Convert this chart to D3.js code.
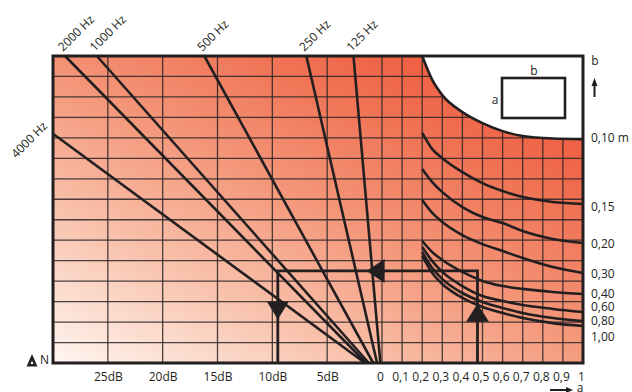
<!DOCTYPE html>
<html>
<head>
<meta charset="utf-8">
<script src="https://cdn.jsdelivr.net/npm/d3@7"></script>
<style>
  body { margin: 0; background: #fff; }
  svg text { font-family: "Open Sans", sans-serif; font-size: 12px; fill: #231f20; }
</style>
</head>
<body>
<script>
// left part: attenuation in dB, right part: duct side a (m), vertical: rows N
const dbTicks = [25, 20, 15, 10, 5];
const aTicks = [0, 0.1, 0.2, 0.3, 0.4, 0.5, 0.6, 0.7, 0.8, 0.9, 1];
const nRows = 15;

// frequency lines: start (dB, N) at the top/left, all running down to N = 0 near 0 dB
const freqLabels = ['4000 Hz', '2000 Hz', '1000 Hz', '500 Hz', '250 Hz', '125 Hz'];
const freqStartDb = [30, 28.9, 26.0, 16.2, 6.9, 2.6];
const freqStartN = [11.2, 15, 15, 15, 15, 15];
const freqEndDb = [1.55, 1.45, 1.2, 0.8, 0.45, 0.15];

// b curves, sampled at the same a values
const curveA = [0.2, 0.25, 0.3, 0.4, 0.5, 0.6, 0.7, 0.85, 1.0];
const b010 = [15, 13.83, 13.09, 12.26, 11.72, 11.33, 11.09, 10.97, 10.94];
const b015 = [11.24, 10.45, 10.01, 9.33, 8.79, 8.40, 8.11, 7.87, 7.77];
const b020 = [9.48, 8.84, 8.35, 7.62, 7.13, 6.84, 6.45, 6.06, 5.86];
const b030 = [7.96, 7.33, 6.89, 6.25, 5.81, 5.47, 5.13, 4.69, 4.40];
const b040 = [5.96, 5.42, 5.03, 4.45, 4.01, 3.76, 3.62, 3.47, 3.37];
const b060 = [5.67, 4.98, 4.45, 3.76, 3.27, 3.03, 2.83, 2.64, 2.49];
const b080 = [5.42, 4.64, 4.10, 3.42, 2.98, 2.69, 2.44, 2.20, 2.05];
const b100 = [5.23, 4.40, 3.86, 3.18, 2.74, 2.44, 2.20, 1.95, 1.81];

const bLabels = ['0,10 m', '0,15', '0,20', '0,30', '0,40', '0,60', '0,80', '1,00'];
const bLabelN = [11.0, 7.62, 5.81, 4.35, 3.37, 2.74, 2.05, 1.27];

// worked example: a = 0.475 -> up to N 4.5 -> left to 9.5 dB -> down
const exampleA = 0.475;
const exampleN = 4.5;
const exampleDb = 9.5;
const upTipN = 2.9;
const leftTipDb = 1.4;
const downBaseN = 3.0;

const width = 632, height = 392;
const ink = '#231f20';

const svg = d3.select('body').append('svg')
  .attr('xmlns', 'http://www.w3.org/2000/svg')
  .attr('width', width)
  .attr('height', height);

const dbScale = d3.scaleLinear().domain([30, 0]).range([53, 382]);
const aScale = d3.scaleLinear().domain([0, 1]).range([382, 583]);
const nScale = d3.scaleLinear().domain([0, nRows]).range([363, 56]);

const x0 = dbScale(30), x1 = aScale(1), yTop = nScale(nRows), yBot = nScale(0);

const grad = svg.append('defs').append('linearGradient')
  .attr('id', 'bg')
  .attr('gradientUnits', 'userSpaceOnUse')
  .attr('x1', x0).attr('y1', yBot)
  .attr('x2', 282).attr('y2', -95);
[[0, '#fff6f1'], [0.25, '#f9c6b1'], [0.5, '#f4977a'], [0.75, '#f06e50'], [1, '#ec4a2f']]
  .forEach(s => grad.append('stop').attr('offset', s[0]).attr('stop-color', s[1]));

svg.append('rect')
  .attr('x', x0).attr('y', yTop)
  .attr('width', x1 - x0).attr('height', yBot - yTop)
  .attr('fill', 'url(#bg)');

// grid
const grid = svg.append('g')
  .attr('stroke', '#2a2526')
  .attr('stroke-width', 1.3)
  .attr('stroke-opacity', 0.85);

grid.selectAll('line.h')
  .data(d3.range(1, nRows))
  .enter().append('line')
  .attr('x1', x0).attr('x2', x1)
  .attr('y1', d => nScale(d)).attr('y2', d => nScale(d));

grid.selectAll('line.db')
  .data(dbTicks)
  .enter().append('line')
  .attr('x1', d => dbScale(d)).attr('x2', d => dbScale(d))
  .attr('y1', yTop).attr('y2', yBot);

grid.selectAll('line.a')
  .data(aTicks.slice(0, -1))
  .enter().append('line')
  .attr('x1', d => aScale(d)).attr('x2', d => aScale(d))
  .attr('y1', yTop).attr('y2', yBot);

// white region above the 0,10 curve
const bLine = d3.line()
  .x(d => aScale(d[0]))
  .y(d => nScale(d[1]))
  .curve(d3.curveMonotoneX);

const boundary = curveA.map((a, i) => [a, b010[i]]);
svg.append('path')
  .attr('d', bLine(boundary) + 'L' + aScale(1) + ',' + nScale(nRows) + 'Z')
  .attr('fill', '#fff');

const curves = [b010, b015, b020, b030, b040, b060, b080, b100];
svg.append('g')
  .selectAll('path')
  .data(curves)
  .enter().append('path')
  .attr('d', c => bLine(curveA.map((a, i) => [a, c[i]])))
  .attr('fill', 'none')
  .attr('stroke', ink)
  .attr('stroke-width', 2.6);

// frequency lines
svg.append('g')
  .selectAll('line')
  .data(freqLabels)
  .enter().append('line')
  .attr('x1', (d, i) => dbScale(freqStartDb[i]))
  .attr('y1', (d, i) => nScale(freqStartN[i]))
  .attr('x2', (d, i) => dbScale(freqEndDb[i]))
  .attr('y2', yBot)
  .attr('stroke', ink)
  .attr('stroke-width', 2.6);

// example route with arrow heads
const ax = aScale(exampleA), ay = nScale(exampleN), dx = dbScale(exampleDb);
svg.append('path')
  .attr('d', `M${ax},${yBot}V${ay}H${dx}V${yBot}`)
  .attr('fill', 'none')
  .attr('stroke', ink)
  .attr('stroke-width', 2.8);

const heads = [
  // up
  [[ax, nScale(upTipN)], [ax - 11.5, nScale(upTipN) + 18], [ax + 11.5, nScale(upTipN) + 18]],
  // left
  [[dbScale(leftTipDb), ay], [dbScale(leftTipDb) + 18, ay - 12], [dbScale(leftTipDb) + 18, ay + 12]],
  // down
  [[dx, nScale(downBaseN) + 18], [dx - 11, nScale(downBaseN)], [dx + 11, nScale(downBaseN)]]
];
svg.append('g')
  .selectAll('path')
  .data(heads)
  .enter().append('path')
  .attr('d', d => 'M' + d.join('L') + 'Z')
  .attr('fill', ink);

// frame
svg.append('rect')
  .attr('x', x0).attr('y', yTop)
  .attr('width', x1 - x0).attr('height', yBot - yTop)
  .attr('fill', 'none')
  .attr('stroke', ink)
  .attr('stroke-width', 3);

// inset duct section
svg.append('rect')
  .attr('x', 502).attr('y', 78)
  .attr('width', 63).attr('height', 40)
  .attr('fill', '#fff')
  .attr('stroke', ink)
  .attr('stroke-width', 2.6);
svg.append('text').attr('x', 534).attr('y', 75).attr('text-anchor', 'middle').text('b');
svg.append('text').attr('x', 495).attr('y', 104).attr('text-anchor', 'middle').text('a');

// bottom axes
const dbAxis = svg.append('g')
  .attr('transform', `translate(0,${yBot})`)
  .call(d3.axisBottom(dbScale).tickValues(dbTicks).tickSize(0).tickPadding(9.5)
    .tickFormat(d => d + 'dB'));

const aAxis = svg.append('g')
  .attr('transform', `translate(-2,${yBot})`)
  .call(d3.axisBottom(aScale).tickValues(aTicks).tickSize(0).tickPadding(9.5)
    .tickFormat(d => (d === 0 || d === 1) ? String(d) : d3.format('.1f')(d).replace('.', ',')));

// right labels
const bAxis = svg.append('g')
  .attr('transform', `translate(${x1},0)`)
  .call(d3.axisRight(nScale).tickValues(bLabelN).tickSize(0).tickPadding(8)
    .tickFormat((d, i) => bLabels[i]));

[dbAxis, aAxis, bAxis].forEach(g => {
  g.select('.domain').remove();
  g.attr('font-size', null).attr('font-family', null);
});

// frequency labels, rotated
svg.append('g')
  .selectAll('text')
  .data(freqLabels)
  .enter().append('text')
  .attr('text-anchor', (d, i) => freqStartN[i] < nRows ? 'end' : 'start')
  .attr('transform', (d, i) => {
    const fx = dbScale(freqStartDb[i]);
    const fy = nScale(freqStartN[i]);
    return freqStartN[i] < nRows
      ? `translate(${fx - 5},${fy - 7}) rotate(-45)`
      : `translate(${fx - 2},${fy - 4}) rotate(-45)`;
  })
  .text(d => d);

// b axis title with arrow
svg.append('text').attr('x', 595).attr('y', 65).attr('text-anchor', 'middle').text('b');
svg.append('line')
  .attr('x1', 594.5).attr('x2', 594.5).attr('y1', 97).attr('y2', 84)
  .attr('stroke', ink).attr('stroke-width', 2);
svg.append('path').attr('d', 'M594.5,78L591.5,86L597.5,86Z').attr('fill', ink);

// a axis title with arrow
svg.append('line')
  .attr('x1', 550).attr('x2', 567).attr('y1', 390).attr('y2', 390)
  .attr('stroke', ink).attr('stroke-width', 2);
svg.append('path').attr('d', 'M573,390L566,387L566,393Z').attr('fill', ink);
svg.append('text').attr('x', 580).attr('y', 392).attr('text-anchor', 'middle').text('a');

// N marker
svg.append('path').attr('d', 'M32,354L26.5,366.5L37.5,366.5Z').attr('fill', ink);
svg.append('path').attr('d', 'M32,360.5L30.5,364L33.5,364Z').attr('fill', '#fff');
svg.append('text').attr('x', 40).attr('y', 363.5).text('N');
</script>
</body>
</html>
